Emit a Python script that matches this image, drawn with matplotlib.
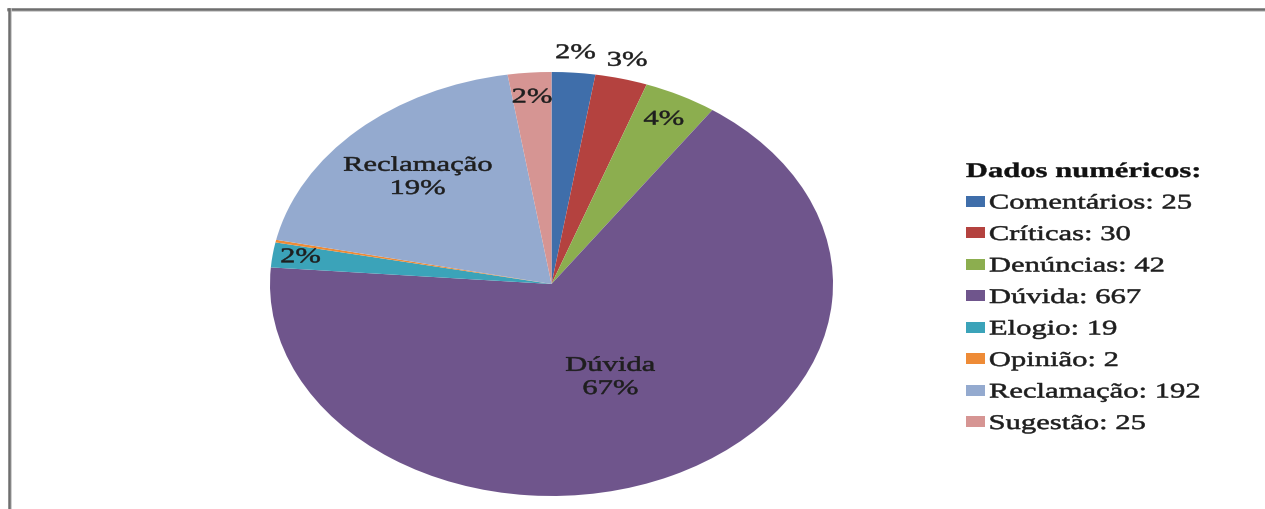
import numpy as np
import matplotlib

matplotlib.use("Agg")
import matplotlib.pyplot as plt
from matplotlib.lines import Line2D
from matplotlib.patheffects import AbstractPathEffect
from matplotlib.transforms import Affine2D

categories = ["Comentários", "Críticas", "Denúncias", "Dúvida",
              "Elogio", "Opinião", "Reclamação", "Sugestão"]
counts = [25, 30, 42, 667, 19, 2, 192, 25]
colors = ["#3F6EAA", "#B4423F", "#8CAE4F", "#6F558C",
          "#3BA3B9", "#EE8B36", "#94AACF", "#D69593"]

# categorias cujo nome aparece dentro da fatia
named_slices = {"Dúvida", "Reclamação"}
# distância radial de cada rótulo (None = sem rótulo)
label_radius = [1.09, 1.085, 0.87, 0.49, 0.90, None, 0.69, 0.88]

plt.rcParams["font.family"] = ["Liberation Serif", "DejaVu Serif"]

W, H = 1265, 509
FS = 15
SX = 1.47  # o texto é alargado na horizontal


class WideText(AbstractPathEffect):
    """Desenha o texto esticado na horizontal em torno de um ponto de âncora."""

    def __init__(self, sx=SX, anchor=0.5, stroke=0.4):
        super().__init__()
        self.sx = sx
        self.anchor = anchor
        self.stroke = stroke

    def draw_path(self, renderer, gc, tpath, affine, rgbFace=None):
        ext = tpath.get_extents()
        x0 = ext.x0 + self.anchor * ext.width
        widen = Affine2D().translate(-x0, 0).scale(self.sx, 1).translate(x0, 0)
        gc0 = renderer.new_gc()
        gc0.copy_properties(gc)
        gc0.set_linewidth(self.stroke)
        gc0.set_foreground(rgbFace)
        renderer.draw_path(gc0, tpath, widen + affine, rgbFace)
        gc0.restore()


fig = plt.figure(figsize=(W / 100, H / 100), dpi=100)
fig.patch.set_facecolor("white")

# moldura (topo e lado esquerdo)
fig.add_artist(Line2D([8 / W, 1], [1 - 11 / H] * 2, transform=fig.transFigure,
                      color="#c8c8c8", lw=1.2))
fig.add_artist(Line2D([8 / W, 1], [1 - 9 / H] * 2, transform=fig.transFigure,
                      color="#6e6e6e", lw=1.8))
fig.add_artist(Line2D([10.5 / W] * 2, [0, 1 - 9 / H], transform=fig.transFigure,
                      color="#c8c8c8", lw=1.2))
fig.add_artist(Line2D([8.5 / W] * 2, [0, 1 - 9 / H], transform=fig.transFigure,
                      color="#6e6e6e", lw=1.8))

# pizza em elipse
left, right, top, bottom = 270, 833, 72, 496
ax = fig.add_axes([left / W, 1 - bottom / H, (right - left) / W, (bottom - top) / H])
wedges, _ = ax.pie(counts, colors=colors, startangle=90, counterclock=False,
                   wedgeprops=dict(linewidth=0))
ax.set_aspect("auto")
ax.set_xlim(-1, 1)
ax.set_ylim(-1, 1)
ax.axis("off")

total = sum(counts)
for w, name, val, r in zip(wedges, categories, counts, label_radius):
    if r is None:
        continue
    ang = np.deg2rad((w.theta1 + w.theta2) / 2)
    pct = round(100 * val / total)
    txt = f"{name}\n{pct}%" if name in named_slices else f"{pct}%"
    ax.text(r * np.cos(ang), r * np.sin(ang), txt, ha="center", va="center",
            fontsize=FS, color="#1e1e1e", linespacing=1.3,
            path_effects=[WideText(anchor=0.5)])

# legenda com os valores absolutos
labels = [f"{c}: {v}" for c, v in zip(categories, counts)]
leg = fig.legend(wedges, labels, loc="upper left", bbox_to_anchor=(966 / W, 1 - 162 / H),
                 frameon=False, fontsize=FS, title="Dados numéricos:",
                 title_fontproperties={"weight": "bold", "size": FS},
                 alignment="left", borderpad=0, borderaxespad=0,
                 handlelength=19 / 20.8, handleheight=9 / 20.8, handletextpad=0.2,
                 labelspacing=0.6)
for t in leg.get_texts():
    t.set_color("#1e1e1e")
    t.set_path_effects([WideText(anchor=0)])
leg.get_title().set_color("#111111")
leg.get_title().set_path_effects([WideText(anchor=0, stroke=0.3)])

fig.savefig("out.png", dpi=100)
